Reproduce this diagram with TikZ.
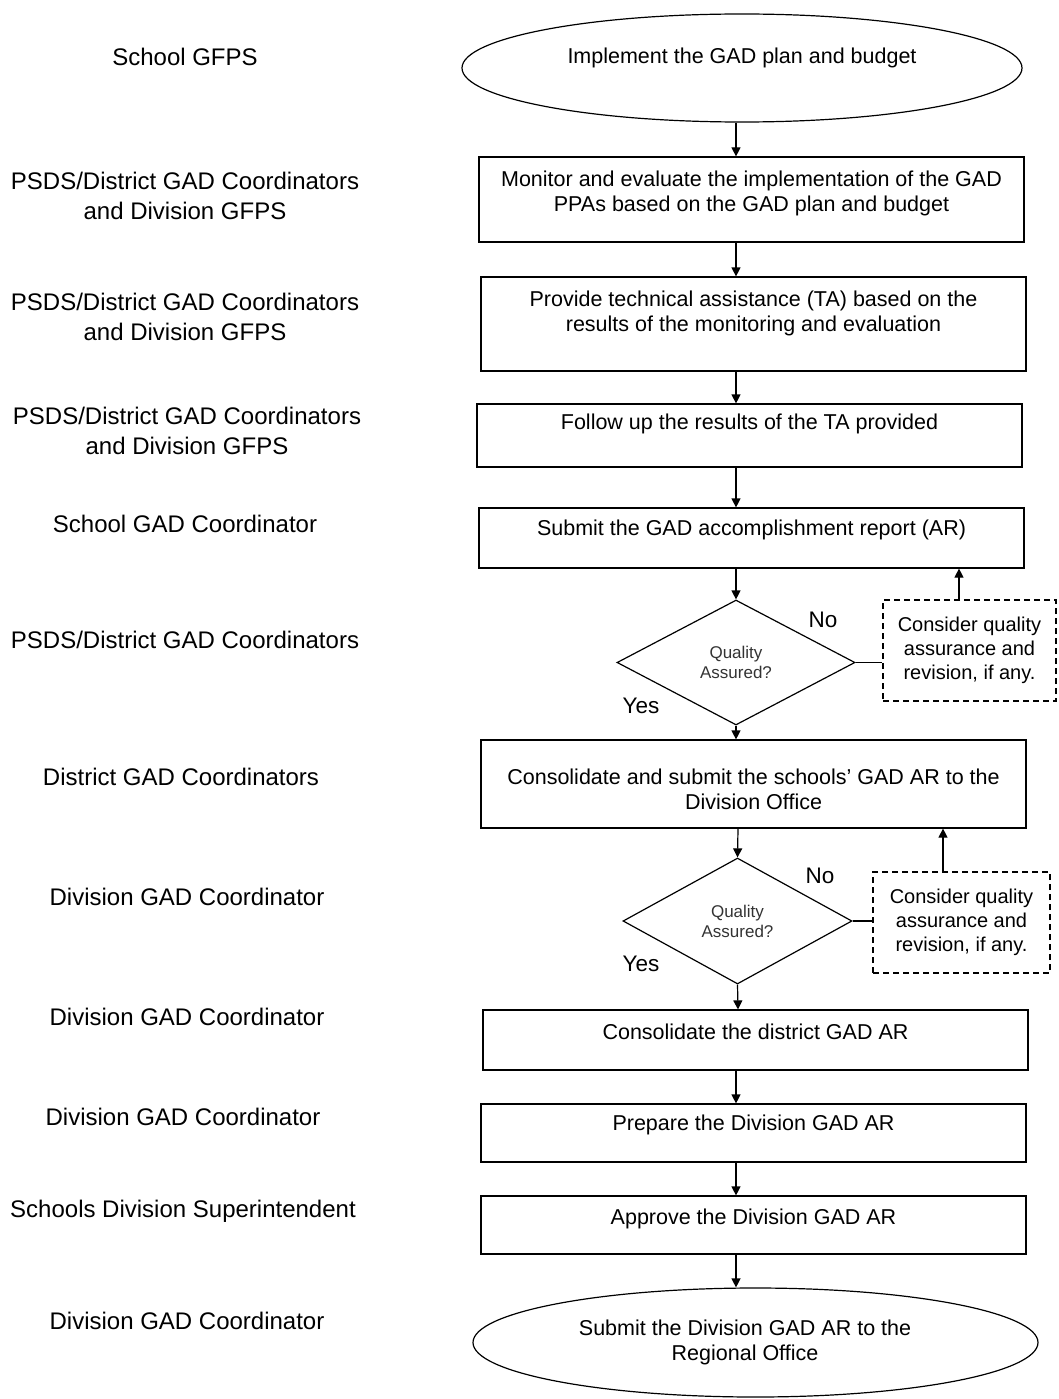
\documentclass[tikz,border=0pt]{standalone}
\usepackage{fontspec}
\setmainfont{Liberation Sans}
\usetikzlibrary{shapes.geometric,arrows.meta}
\begin{document}
\begin{tikzpicture}[x=1pt,y=-1pt,
  every node/.style={font=\fontsize{21.5}{25}\selectfont, inner sep=0pt, align=center},
  stepbox/.style={draw, line width=1.2pt, rectangle},
  termbox/.style={draw, line width=1.2pt, ellipse},
  decbox/.style={draw, line width=1.2pt, diamond, font=\fontsize{17}{20}\selectfont, text=black!80},
  notebox/.style={draw, line width=1.1pt, dash pattern=on 6pt off 4pt, rectangle, font=\fontsize{20}{24}\selectfont},
  lab/.style={font=\fontsize{24}{30}\selectfont},
  yn/.style={font=\fontsize{22.5}{25}\selectfont},
  arr/.style={line width=1.2pt, -{Triangle[length=9pt,width=9pt]}},
  ln/.style={line width=1.2pt}
]
\useasboundingbox (0,0) rectangle (1058,1399);

% left labels
\node[lab] (l1) at (185,57) {School GFPS};
\node[lab] (l2) at (185,196) {PSDS/District GAD Coordinators\\and Division GFPS};
\node[lab] (l3) at (185,317) {PSDS/District GAD Coordinators\\and Division GFPS};
\node[lab] (l4) at (187,431) {PSDS/District GAD Coordinators\\and Division GFPS};
\node[lab] (l5) at (185,524) {School GAD Coordinator};
\node[lab] (l6) at (185,640) {PSDS/District GAD Coordinators};
\node[lab] (l7) at (181,777) {District GAD Coordinators};
\node[lab] (l8) at (187,897) {Division GAD Coordinator};
\node[lab] (l9) at (187,1017) {Division GAD Coordinator};
\node[lab] (l10) at (183,1117) {Division GAD Coordinator};
\node[lab] (l11) at (183,1211) {Schools Division Superintendent};
\node[lab] (l12) at (187,1321) {Division GAD Coordinator};

% shapes
\node[termbox, minimum width=560, minimum height=108] (e1) at (742,68) {};
\node (e1t) at (742,58) {Implement the GAD plan and budget};

\node[stepbox, minimum width=545, minimum height=85] (b1) at (751.5,199.5) {};
\node (b1t) at (751.5,193) {Monitor and evaluate the implementation of the GAD\\PPAs based on the GAD plan and budget};

\node[stepbox, minimum width=545, minimum height=94] (b2) at (753.5,324) {};
\node (b2t) at (753.5,313) {Provide technical assistance (TA) based on the\\results of the monitoring and evaluation};

\node[stepbox, minimum width=545, minimum height=63] (b3) at (749.5,435.5) {};
\node (b3t) at (749.5,424) {Follow up the results of the TA provided};

\node[stepbox, minimum width=545, minimum height=60] (b4) at (751.5,538) {};
\node (b4t) at (751.5,530) {Submit the GAD accomplishment report (AR)};

\node[decbox, minimum width=238, minimum height=125] (d1) at (736,662.5) {Quality\\Assured?};
\node[notebox, minimum width=173, minimum height=101] (n1) at (969.5,650.5) {Consider quality\\assurance and\\revision, if any.};
\node[yn] (no1) at (823,620) {No};
\node[yn] (yes1) at (641,706) {Yes};

\node[stepbox, minimum width=545, minimum height=88] (b5) at (753.5,784) {};
\node (b5t) at (753.5,789) {Consolidate and submit the schools’ GAD AR to the\\Division Office};

\node[decbox, minimum width=229, minimum height=126] (d2) at (737.5,921) {Quality\\Assured?};
\node[notebox, minimum width=177, minimum height=101] (n2) at (961.5,922.5) {Consider quality\\assurance and\\revision, if any.};
\node[yn] (no2) at (820,876) {No};
\node[yn] (yes2) at (641,964) {Yes};

\node[stepbox, minimum width=545, minimum height=60] (b6) at (755.5,1040) {};
\node (b6t) at (755.5,1032) {Consolidate the district GAD AR};

\node[stepbox, minimum width=545, minimum height=58] (b7) at (753.5,1133) {};
\node (b7t) at (753.5,1125) {Prepare the Division GAD AR};

\node[stepbox, minimum width=545, minimum height=58] (b8) at (753.5,1225) {};
\node (b8t) at (753.5,1219) {Approve the Division GAD AR};

\node[termbox, minimum width=565, minimum height=109] (e2) at (755.5,1342.5) {};
\node (e2t) at (745,1342) {Submit the Division GAD AR to the\\Regional Office};

% connectors
\coordinate (ax) at (736,0);
\coordinate (bx) at (738,0);
\coordinate (cx) at (959,0);
\coordinate (dx) at (943,0);
\draw[arr] (e1.south -| ax) -- (b1.north -| ax);
\draw[arr] (b1.south -| ax) -- (b2.north -| ax);
\draw[arr] (b2.south -| ax) -- (b3.north -| ax);
\draw[arr] (b3.south -| ax) -- (b4.north -| ax);
\draw[arr] (b4.south -| ax) -- (d1.north);
\draw[arr] (d1.south) -- (b5.north -| ax);
\draw[ln] (d1.east) -- (n1.west |- d1.east);
\draw[arr] (n1.north -| cx) -- (b4.south -| cx);
\draw[arr] (b5.south -| bx) -- (d2.north);
\draw[arr] (d2.south) -- (b6.north -| bx);
\draw[ln] (d2.east) -- (n2.west |- d2.east);
\draw[arr] (n2.north -| dx) -- (b5.south -| dx);
\draw[arr] (b6.south -| ax) -- (b7.north -| ax);
\draw[arr] (b7.south -| ax) -- (b8.north -| ax);
\draw[arr] (b8.south -| ax) -- (e2.north -| ax);
\end{tikzpicture}
\end{document}
